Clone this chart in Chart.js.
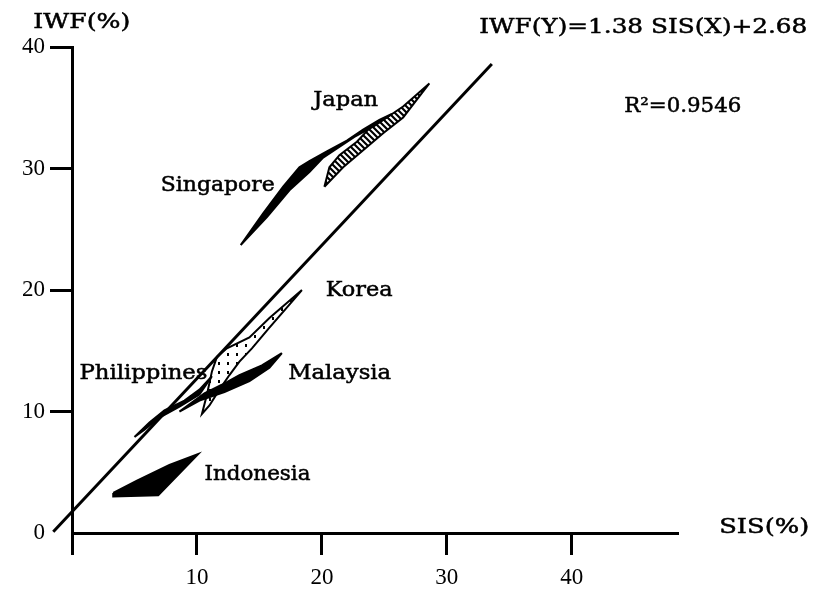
<!DOCTYPE html>
<html>
<head>
<meta charset="utf-8">
<script src="https://cdn.jsdelivr.net/npm/chart.js@4.4.1/dist/chart.umd.min.js"></script>
<style>
  html, body { margin: 0; padding: 0; background: #fff; }
  canvas { display: block; }
</style>
</head>
<body>
<canvas id="chart" width="815" height="592"></canvas>
<script>
// SIS (x) / IWF (y) outlines per country, in percent
const indonesia = [[3.3, 3.3], [5.2, 4.3], [7.8, 5.6], [10.1, 6.5], [6.9, 3.1], [3.3, 3.0]];
const philippines = [[5.0, 7.9], [6.2, 9.1], [7.4, 10.1], [9.0, 10.9], [10.2, 11.8], [11.2, 12.9],
    [10.2, 11.4], [8.6, 10.4], [7.0, 9.5], [5.8, 8.5]];
const malaysia = [[16.8, 14.8], [15.2, 13.8], [13.4, 13.0], [12.0, 12.2], [10.6, 11.5], [8.6, 10.0],
    [10.2, 10.9], [12.2, 11.6], [14.2, 12.5], [15.8, 13.6]];
const korea = [[18.4, 20.0], [15.8, 17.7], [14.2, 16.1], [12.4, 15.2], [11.6, 14.5], [11.2, 13.3],
    [10.8, 11.4], [10.4, 9.8], [11.0, 10.5], [11.8, 11.8], [12.6, 13.0], [13.4, 14.1],
    [14.4, 15.2], [15.8, 16.9], [17.4, 18.8]];
const japan = [[20.2, 28.5], [20.6, 30.1], [21.4, 31.1], [22.8, 32.2], [23.8, 33.3], [25.2, 34.2],
    [26.5, 35.1], [28.6, 37.0], [26.5, 34.2], [24.9, 32.9], [23.3, 31.5], [21.7, 30.1]];
const singapore = [[13.5, 23.7], [15.3, 26.3], [16.9, 28.5], [18.2, 30.1], [19.0, 30.6], [20.4, 31.4],
    [22.0, 32.3], [23.3, 33.2], [24.6, 34.0], [25.6, 34.5], [24.2, 33.5], [22.6, 32.6],
    [21.0, 31.5], [20.1, 30.9], [19.0, 29.7], [17.4, 28.2], [15.6, 26.0]];

// fitted line as drawn, end points
const fitLine = [[-1.5, 0.1], [33.6, 38.6]];

const xTicks = [0, 10, 20, 30, 40];
const yTicks = [0, 10, 20, 30, 40];

// text notes, anchored in data units (left edge, middle)
const notes = [
    { text: "IWF(%)", at: [-3.1, 42.0], width: 97 },
    { text: "IWF(Y)=1.38 SIS(X)+2.68", at: [32.6, 41.6], width: 328 },
    { text: "R\u00b2=0.9546", at: [44.2, 35.1], width: 117 },
    { text: "SIS(%)", at: [51.8, 0.4], width: 90 },
    { text: "Japan", at: [19.3, 35.6], width: 65 },
    { text: "Singapore", at: [7.1, 28.6], width: 114 },
    { text: "Korea", at: [20.3, 19.9], width: 67 },
    { text: "Philippines", at: [0.6, 13.1], width: 128 },
    { text: "Malaysia", at: [17.3, 13.1], width: 103 },
    { text: "Indonesia", at: [10.6, 4.8], width: 106 },
];

const FONT = '"DejaVu Serif", "Liberation Serif", serif';
const TICK_FONT = '"Liberation Serif", serif';

function pattern(size, draw) {
    const c = document.createElement("canvas");
    c.width = c.height = size;
    const g = c.getContext("2d");
    g.fillStyle = "#fff";
    g.fillRect(0, 0, size, size);
    g.fillStyle = g.strokeStyle = "#000";
    draw(g, size);
    return g.createPattern(c, "repeat");
}

const ctx = document.getElementById("chart").getContext("2d");

const hatch = pattern(6, (g, s) => {
    g.lineWidth = 2.2;
    g.beginPath();
    g.moveTo(-1, -1); g.lineTo(s + 1, s + 1);
    g.moveTo(-1, s - 1); g.lineTo(1, s + 1);
    g.moveTo(s - 1, -1); g.lineTo(s + 1, 1);
    g.stroke();
});
const dots = pattern(9, (g) => {
    g.fillRect(2, 2, 2, 3);
});

const toPoints = (arr, close) => {
    const pts = arr.map(([x, y]) => ({ x, y }));
    if (close) pts.push({ ...pts[0] });
    return pts;
};

function shape(label, arr, fillStyle) {
    return {
        label,
        data: toPoints(arr, true),
        showLine: true,
        fill: "shape",
        backgroundColor: fillStyle,
        borderColor: "#000",
        borderWidth: 2,
        pointRadius: 0,
        tension: 0,
    };
}

const notesPlugin = {
    id: "notes",
    afterDraw(chart) {
        const { ctx, scales: { x, y } } = chart;
        ctx.save();
        ctx.fillStyle = ctx.strokeStyle = "#000";
        ctx.lineWidth = 0.5;
        ctx.textBaseline = "middle";
        ctx.textAlign = "left";
        ctx.font = "20px " + FONT;
        notes.forEach((n) => {
            const px = x.getPixelForValue(n.at[0]);
            const py = y.getPixelForValue(n.at[1]);
            const w = ctx.measureText(n.text).width;
            ctx.save();
            ctx.translate(px, py);
            ctx.scale(n.width / w, 1);
            ctx.fillText(n.text, 0, 0);
            ctx.strokeText(n.text, 0, 0);
            ctx.restore();
        });
        ctx.restore();
    },
};

const tickColor = (c) => (c.tick && c.tick.value === 0 ? "rgba(0,0,0,0)" : "#000");

new Chart(ctx, {
    type: "scatter",
    data: {
        datasets: [
            {
                label: "fit",
                data: toPoints(fitLine, false),
                showLine: true,
                fill: false,
                borderColor: "#000",
                borderWidth: 3,
                pointRadius: 0,
                clip: false,
            },
            shape("Singapore", singapore, "#000"),
            shape("Indonesia", indonesia, "#000"),
            shape("Malaysia", malaysia, "#000"),
            shape("Philippines", philippines, "#000"),
            shape("Korea", korea, dots),
            shape("Japan", japan, hatch),
        ],
    },
    options: {
        responsive: false,
        animation: false,
        devicePixelRatio: 1,
        layout: { padding: { top: 47, right: 137, bottom: 0, left: 0 } },
        plugins: {
            legend: { display: false },
            tooltip: { enabled: false },
        },
        scales: {
            x: {
                type: "linear",
                min: 0,
                max: 48.5,
                afterFit: (s) => { s.height = 59; },
                afterBuildTicks: (s) => { s.ticks = xTicks.map((v) => ({ value: v })); },
                border: { display: true, color: "#000", width: 3 },
                grid: { drawOnChartArea: false, drawTicks: true, tickLength: 22, tickWidth: 3, tickColor: "#000" },
                ticks: {
                    color: "#000",
                    padding: 9,
                    font: { family: TICK_FONT, size: 23 },
                    callback: (v) => (v === 0 ? "" : v),
                },
            },
            y: {
                type: "linear",
                min: 0,
                max: 40,
                afterFit: (s) => { s.width = 72; },
                afterBuildTicks: (s) => { s.ticks = yTicks.map((v) => ({ value: v })); },
                border: { display: true, color: "#000", width: 3 },
                grid: { drawOnChartArea: false, drawTicks: true, tickLength: 22, tickWidth: 3, tickColor },
                ticks: {
                    color: "#000",
                    padding: 5,
                    font: { family: TICK_FONT, size: 23 },
                },
            },
        },
    },
    plugins: [notesPlugin],
});
</script>
</body>
</html>
